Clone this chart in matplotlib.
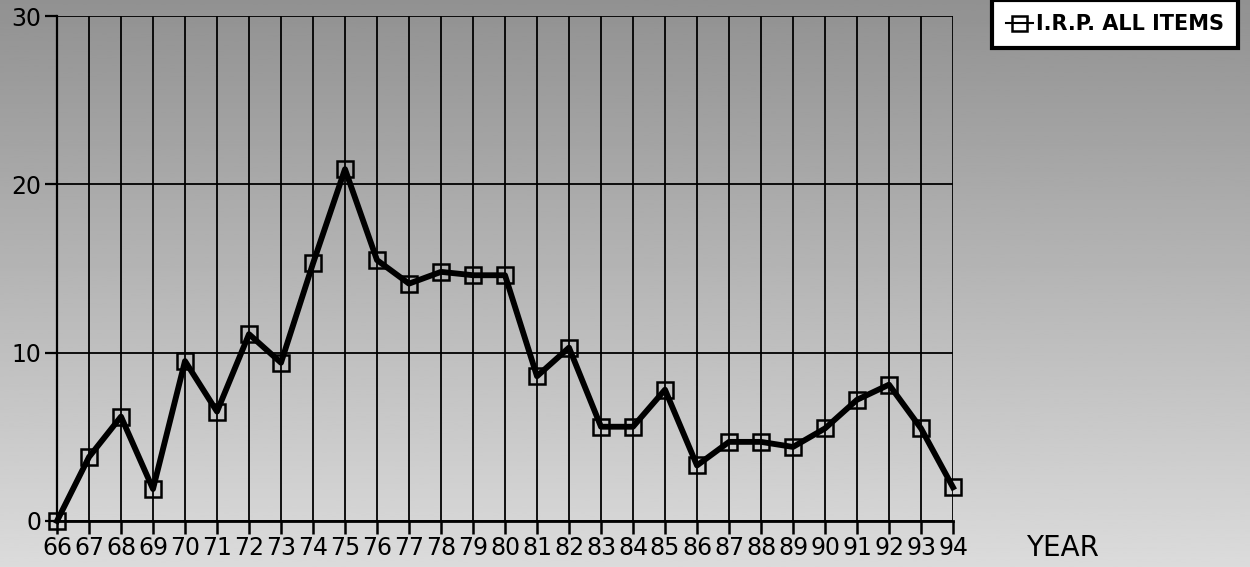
import matplotlib.pyplot as plt
import numpy as np

years = list(range(66, 95))
irp_all_items = [0.0, 3.8, 6.2, 1.9, 9.5, 6.5, 11.1, 9.4, 15.3, 20.9,
                 15.5, 14.1, 14.8, 14.6, 14.6, 8.6, 10.3, 5.6, 5.6, 7.8,
                 3.3, 4.7, 4.7, 4.4, 5.5, 7.2, 8.1, 5.5, 2.0]
y_ticks = [0, 10, 20, 30]

plt.rcParams["font.family"] = ["DejaVu Sans Condensed", "DejaVu Sans"]

fig = plt.figure(figsize=(12.5, 5.67), dpi=100)

# halftone-like grey backdrop, lighter towards the bottom
bg = fig.add_axes([0, 0, 1, 1], zorder=-5)
shade = np.linspace(0.57, 0.86, 200).reshape(-1, 1)
bg.imshow(shade, cmap="gray", vmin=0, vmax=1, aspect="auto", extent=[0, 1, 0, 1], origin="upper")
bg.axis("off")

ax = fig.add_axes([57 / 1250, 1 - 521 / 567, (953 - 57) / 1250, (521 - 16) / 567])
ax.patch.set_alpha(0)

ax.plot(years, irp_all_items, color="black", linewidth=4.2, marker="s",
        markersize=12, markerfacecolor="none", markeredgecolor="black",
        markeredgewidth=1.8, zorder=4, clip_on=False)

ax.set_xlim(66, 94)
ax.set_ylim(0, 30)
ax.set_xticks(years)
ax.set_xticklabels([str(y) for y in years])
ax.set_yticks(y_ticks)
ax.set_yticklabels([str(v) for v in y_ticks])

ax.grid(axis="x", color="black", linewidth=1.3)
ax.grid(axis="y", color="black", linewidth=1.3)
ax.set_axisbelow(True)

for side in ["top", "right"]:
    ax.spines[side].set_visible(False)
ax.spines["left"].set_linewidth(1.6)
ax.spines["bottom"].set_linewidth(2.0)

ax.tick_params(axis="x", direction="out", length=9, width=1.8, labelsize=17, pad=2)
ax.tick_params(axis="y", direction="out", length=9, width=1.6, labelsize=17, pad=2)

fig.text(1062 / 1250, 1 - 548 / 567, "YEAR", fontsize=20, ha="center", va="center",
         family="DejaVu Sans")

legend = ax.legend(["I.R.P. ALL ITEMS"], loc="upper right",
                   bbox_to_anchor=(1248 / 1250, 1 + 10 / 567), bbox_transform=fig.transFigure,
                   frameon=True, fancybox=False, fontsize=15, handlelength=1.3,
                   handletextpad=0.15, borderpad=0.65, markerscale=0.9)
legend.get_frame().set_edgecolor("black")
legend.get_frame().set_linewidth(3)
legend.get_frame().set_facecolor("white")
legend.get_frame().set_alpha(1)
for text in legend.get_texts():
    text.set_fontweight("bold")
legend.get_lines()[0].set_linewidth(1.5)

fig.savefig("out.png", dpi=100)
